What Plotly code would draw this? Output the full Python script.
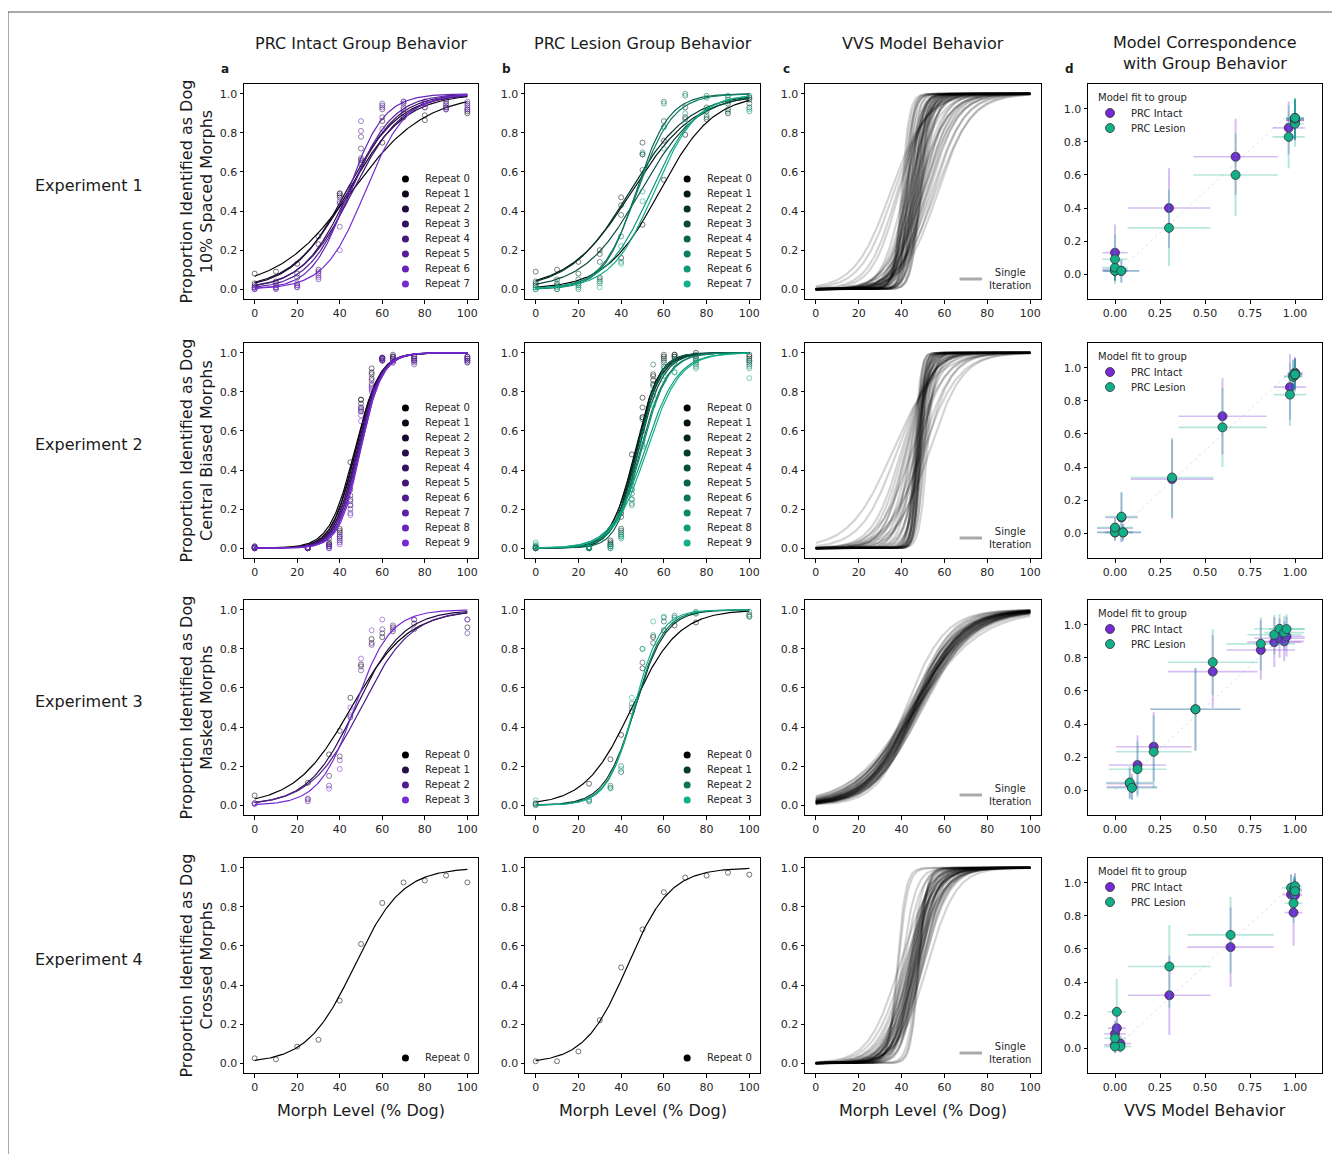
import numpy as np
import plotly.graph_objects as go
from plotly.subplots import make_subplots

W, H = 1340, 1154
OFF = 8  # page body margin that the browser adds around the figure
FONT = "DejaVu Sans"
INTACT = (118, 42, 212)
LESION = (18, 176, 138)

# morph levels
levels_10 = [0, 10, 20, 30, 40, 50, 60, 70, 80, 90, 100]
levels_cb = [0, 25, 35, 40, 45, 50, 55, 60, 65, 75, 100]

# ---- group behaviour: fitted sigmoid midpoints / slopes and raw points per repeat
exp1_intact_mid = [45.5, 44, 43, 44.5, 46, 45, 44, 52]
exp1_intact_slope = [0.058, 0.075, 0.08, 0.09, 0.085, 0.10, 0.12, 0.105]
exp1_intact_pts = [
    [0.08, 0.09, 0.13, 0.27, 0.49, 0.64, 0.75, 0.88, 0.865, 0.93, 0.90],
    [0.03, 0.04, 0.08, 0.23, 0.48, 0.67, 0.86, 0.90, 0.89, 0.92, 0.91],
    [0.02, 0.03, 0.06, 0.10, 0.47, 0.66, 0.88, 0.92, 0.93, 0.95, 0.92],
    [0.01, 0.02, 0.03, 0.09, 0.44, 0.72, 0.92, 0.95, 0.95, 0.96, 0.94],
    [0.01, 0.01, 0.02, 0.08, 0.49, 0.78, 0.94, 0.96, 0.96, 0.97, 0.95],
    [0.00, 0.00, 0.01, 0.06, 0.32, 0.81, 0.95, 0.93, 0.96, 0.93, 0.96],
    [0.00, 0.005, 0.01, 0.05, 0.45, 0.86, 0.93, 0.96, 0.95, 0.94, 0.93],
    [0.005, 0.01, 0.02, 0.07, 0.20, 0.65, 0.82, 0.90, 0.93, 0.92, 0.92],
]
exp1_lesion_mid = [58, 45, 44, 49, 47, 47.5, 54, 55.5]
exp1_lesion_slope = [0.08, 0.068, 0.072, 0.075, 0.13, 0.12, 0.095, 0.10]
exp1_lesion_pts = [
    [0.02, 0.02, 0.03, 0.06, 0.16, 0.33, 0.56, 0.79, 0.87, 0.90, 0.97],
    [0.09, 0.10, 0.14, 0.20, 0.47, 0.75, 0.76, 0.93, 0.91, 0.92, 0.98],
    [0.04, 0.05, 0.08, 0.18, 0.43, 0.69, 0.86, 0.88, 0.93, 0.95, 0.93],
    [0.03, 0.03, 0.05, 0.14, 0.38, 0.61, 0.83, 0.87, 0.88, 0.97, 0.95],
    [0.01, 0.00, 0.02, 0.04, 0.27, 0.69, 0.96, 0.99, 0.98, 0.99, 0.99],
    [0.00, 0.00, 0.00, 0.05, 0.14, 0.70, 0.95, 1.00, 0.99, 0.96, 0.98],
    [0.00, 0.01, 0.01, 0.03, 0.22, 0.50, 0.72, 0.90, 0.89, 0.91, 0.91],
    [0.01, 0.03, 0.02, 0.01, 0.13, 0.45, 0.83, 0.85, 0.92, 0.98, 0.92],
]

exp2_intact_mid = [47, 47.3, 47.6, 48, 48.3, 48.6, 48.9, 49.2, 49.5, 49.8]
exp2_intact_slope = [0.17, 0.18, 0.18, 0.19, 0.18, 0.19, 0.19, 0.20, 0.19, 0.20]
exp2_intact_pts = [
    [0.005, 0.00, 0.05, 0.10, 0.44, 0.76, 0.92, 0.975, 0.98, 0.98, 0.98],
    [0.00, 0.005, 0.03, 0.09, 0.30, 0.76, 0.90, 0.97, 0.99, 0.97, 0.97],
    [0.01, 0.00, 0.02, 0.08, 0.27, 0.74, 0.89, 0.975, 0.97, 0.96, 0.96],
    [0.00, 0.00, 0.02, 0.06, 0.25, 0.72, 0.87, 0.96, 0.98, 0.98, 0.98],
    [0.005, 0.005, 0.01, 0.05, 0.24, 0.71, 0.86, 0.97, 0.96, 0.95, 0.97],
    [0.00, 0.00, 0.01, 0.04, 0.22, 0.70, 0.84, 0.96, 0.97, 0.96, 0.95],
    [0.00, 0.00, 0.00, 0.07, 0.20, 0.72, 0.83, 0.975, 0.95, 0.97, 0.96],
    [0.005, 0.00, 0.02, 0.03, 0.18, 0.70, 0.82, 0.96, 0.98, 0.94, 0.95],
    [0.00, 0.005, 0.00, 0.02, 0.22, 0.68, 0.81, 0.965, 0.96, 0.96, 0.97],
    [0.01, 0.00, 0.01, 0.06, 0.17, 0.65, 0.80, 0.97, 0.95, 0.97, 0.98],
]
exp2_lesion_mid = [46.5, 47, 47, 47.5, 48, 48, 49, 49.5, 51, 52]
exp2_lesion_slope = [0.18, 0.19, 0.17, 0.18, 0.17, 0.20, 0.16, 0.16, 0.13, 0.13]
exp2_lesion_pts = [
    [0.00, 0.00, 0.04, 0.18, 0.48, 0.77, 0.86, 0.98, 0.99, 1.00, 0.99],
    [0.005, 0.00, 0.03, 0.16, 0.36, 0.72, 0.89, 0.99, 0.98, 0.98, 0.98],
    [0.00, 0.005, 0.02, 0.10, 0.32, 0.67, 0.88, 0.97, 0.99, 0.97, 0.97],
    [0.01, 0.00, 0.01, 0.09, 0.30, 0.67, 0.84, 0.96, 0.98, 0.99, 0.96],
    [0.00, 0.00, 0.02, 0.08, 0.28, 0.66, 0.83, 0.95, 0.97, 0.96, 0.95],
    [0.00, 0.005, 0.00, 0.07, 0.25, 0.60, 0.94, 0.93, 0.96, 0.95, 0.94],
    [0.01, 0.00, 0.01, 0.06, 0.23, 0.55, 0.80, 0.92, 0.95, 0.94, 0.96],
    [0.00, 0.00, 0.02, 0.05, 0.22, 0.52, 0.78, 0.90, 0.90, 0.93, 0.93],
    [0.02, 0.00, 0.00, 0.06, 0.25, 0.53, 0.74, 0.86, 0.94, 0.92, 0.92],
    [0.03, 0.005, 0.01, 0.07, 0.30, 0.56, 0.73, 0.88, 0.90, 0.96, 0.87],
]

exp3_intact_mid = [45.5, 47.5, 50, 47]
exp3_intact_slope = [0.075, 0.09, 0.085, 0.12]
exp3_intact_pts = [
    [0.05, 0.115, 0.26, 0.38, 0.55, 0.72, 0.85, 0.86, 0.91, 0.93, 0.91],
    [0.01, 0.03, 0.15, 0.25, 0.45, 0.71, 0.83, 0.88, 0.89, 0.95, 0.95],
    [0.01, 0.02, 0.10, 0.23, 0.46, 0.69, 0.82, 0.90, 0.92, 0.90, 0.88],
    [0.005, 0.035, 0.085, 0.185, 0.50, 0.75, 0.895, 0.95, 0.90, 0.95, 0.95],
]
exp3_lesion_mid = [45, 46.5, 46.5, 46]
exp3_lesion_slope = [0.092, 0.14, 0.15, 0.16]
exp3_lesion_pts = [
    [0.01, 0.11, 0.235, 0.36, 0.48, 0.70, 0.86, 0.895, 0.92, 0.935, 0.965],
    [0.00, 0.02, 0.09, 0.17, 0.50, 0.73, 0.83, 0.94, 0.96, 0.98, 0.975],
    [0.005, 0.03, 0.10, 0.20, 0.52, 0.80, 0.87, 0.96, 0.97, 0.99, 0.99],
    [0.025, 0.025, 0.085, 0.185, 0.55, 0.80, 0.94, 0.965, 0.95, 0.985, 0.965],
]

exp4_intact_mid = [47]
exp4_intact_slope = [0.09]
exp4_intact_pts = [[0.025, 0.02, 0.085, 0.12, 0.32, 0.61, 0.82, 0.925, 0.935, 0.96, 0.925]]
exp4_lesion_mid = [43]
exp4_lesion_slope = [0.10]
exp4_lesion_pts = [[0.01, 0.01, 0.06, 0.22, 0.49, 0.685, 0.875, 0.95, 0.96, 0.975, 0.965]]

# ---- VVS model: fitted sigmoid per iteration
vvs1_mid = [40, 40.5, 41, 41.5, 42, 42, 42.5, 43, 43.5, 44, 44, 44.5, 45, 45, 45.5, 46, 46, 46.5, 47, 47,
            47.5, 48, 48.5, 49, 49.5, 50, 48, 49, 50, 51, 52, 53, 54, 55, 57, 35, 36.5, 38, 39, 41,
            43, 45, 47, 46, 44, 42, 48, 50, 52, 56, 44.5, 45.5, 46.5, 47.5, 48.5, 43, 42.5, 49]
vvs1_slope = [0.55, 0.5, 0.45, 0.5, 0.4, 0.3, 0.35, 0.3, 0.35, 0.4, 0.25, 0.3, 0.45, 0.28, 0.3, 0.5, 0.25, 0.3, 0.45, 0.22,
              0.3, 0.4, 0.25, 0.35, 0.3, 0.2, 0.18, 0.16, 0.15, 0.17, 0.14, 0.15, 0.13, 0.14, 0.13, 0.12, 0.13, 0.15, 0.16, 0.2,
              0.18, 0.16, 0.14, 0.2, 0.22, 0.25, 0.15, 0.13, 0.16, 0.12, 0.6, 0.45, 0.4, 0.55, 0.5, 0.6, 0.7, 0.45]
vvs2_mid = [46, 46.5, 47, 47, 47.5, 47.5, 48, 48, 48.5, 48.5, 49, 49, 49.5, 50, 50.5, 51, 52, 46, 47, 48,
            49, 50, 45, 44, 43, 42, 41, 40, 45, 47, 49, 51, 46, 48, 44, 42, 38, 36, 50, 53,
            47, 48, 49, 47.5, 48.5]
vvs2_slope = [0.7, 0.6, 0.8, 0.5, 0.7, 0.45, 0.6, 0.4, 0.55, 0.8, 0.5, 0.7, 0.6, 0.45, 0.6, 0.5, 0.55, 0.3, 0.35, 0.3,
              0.25, 0.3, 0.22, 0.2, 0.18, 0.17, 0.16, 0.15, 0.13, 0.15, 0.14, 0.16, 0.25, 0.2, 0.3, 0.2, 0.12, 0.1, 0.12, 0.13,
              0.9, 0.75, 0.65, 0.55, 0.85]
vvs3_mid = [43, 43.5, 44, 44.5, 45, 45, 45.5, 46, 46, 46.5, 46.5, 47, 47, 47.5, 47.5, 48, 48, 48.5, 49, 49.5,
            44, 45, 46, 47, 48, 45.5, 46.5, 47.5, 44.5, 48.5, 42, 50, 46, 47, 45,
            45.8, 46.2, 46.8, 47.2, 45.2]
vvs3_slope = [0.085, 0.09, 0.08, 0.095, 0.085, 0.1, 0.09, 0.08, 0.095, 0.085, 0.1, 0.09, 0.075, 0.085, 0.095, 0.08, 0.09, 0.085, 0.08, 0.09,
              0.105, 0.075, 0.11, 0.07, 0.1, 0.08, 0.09, 0.1, 0.07, 0.095, 0.11, 0.085, 0.12, 0.065, 0.075,
              0.09, 0.085, 0.095, 0.08, 0.09]
vvs4_mid = [38, 38.5, 40, 41, 42, 43, 43.5, 44, 44.5, 45, 45, 45.5, 46, 46, 46.5, 47, 47, 47.5, 48, 48,
            48.5, 49, 49.5, 50, 42, 44, 46, 48, 41, 43, 45, 47, 49, 46, 44, 47.5, 48, 50, 52, 39,
            45.5, 46.5, 44.5, 47.5, 43.5]
vvs4_slope = [0.5, 0.45, 0.3, 0.25, 0.2, 0.22, 0.18, 0.25, 0.2, 0.3, 0.17, 0.22, 0.25, 0.18, 0.2, 0.3, 0.16, 0.22, 0.5, 0.2,
              0.25, 0.18, 0.2, 0.17, 0.15, 0.16, 0.15, 0.16, 0.14, 0.15, 0.14, 0.15, 0.16, 0.35, 0.35, 0.45, 0.55, 0.16, 0.15, 0.14,
              0.22, 0.2, 0.24, 0.19, 0.21]

# ---- model correspondence (per morph level)
d1_model = [0.0, 0.0, 0.0, 0.035, 0.30, 0.67, 0.965, 1.0, 1.0, 1.0, 1.0]
d1_model_err = [0.07, 0.07, 0.07, 0.10, 0.23, 0.235, 0.09, 0.05, 0.05, 0.05, 0.05]
d1_intact = [0.02, 0.03, 0.13, 0.02, 0.40, 0.71, 0.885, 0.93, 0.935, 0.94, 0.93]
d1_intact_err = [0.06, 0.07, 0.17, 0.07, 0.24, 0.23, 0.16, 0.12, 0.12, 0.12, 0.12]
d1_lesion = [0.02, 0.04, 0.09, 0.02, 0.28, 0.60, 0.83, 0.91, 0.945, 0.94, 0.945]
d1_lesion_err = [0.06, 0.08, 0.15, 0.07, 0.23, 0.25, 0.19, 0.14, 0.12, 0.12, 0.12]

d2_model = [0.0, 0.0, 0.045, 0.036, 0.317, 0.597, 0.972, 0.99, 1.0, 1.0, 1.0]
d2_model_err = [0.10, 0.10, 0.10, 0.09, 0.23, 0.245, 0.09, 0.05, 0.04, 0.04, 0.04]
d2_intact = [0.005, 0.03, 0.005, 0.095, 0.327, 0.707, 0.883, 0.95, 0.965, 0.97, 0.965]
d2_intact_err = [0.05, 0.06, 0.05, 0.15, 0.24, 0.23, 0.20, 0.10, 0.10, 0.09, 0.09]
d2_lesion = [0.005, 0.034, 0.005, 0.10, 0.337, 0.64, 0.838, 0.945, 0.955, 0.96, 0.96]
d2_lesion_err = [0.05, 0.06, 0.05, 0.15, 0.24, 0.24, 0.19, 0.10, 0.10, 0.09, 0.09]

d3_model = [0.082, 0.094, 0.125, 0.215, 0.447, 0.543, 0.81, 0.885, 0.914, 0.94, 0.953]
d3_model_err = [0.13, 0.14, 0.16, 0.21, 0.25, 0.25, 0.19, 0.15, 0.14, 0.11, 0.10]
d3_intact = [0.04, 0.02, 0.152, 0.263, 0.489, 0.717, 0.848, 0.895, 0.919, 0.90, 0.929]
d3_intact_err = [0.09, 0.08, 0.18, 0.21, 0.25, 0.22, 0.18, 0.15, 0.12, 0.12, 0.12]
d3_lesion = [0.046, 0.014, 0.127, 0.232, 0.489, 0.774, 0.885, 0.94, 0.976, 0.953, 0.974]
d3_lesion_err = [0.10, 0.07, 0.17, 0.22, 0.25, 0.20, 0.16, 0.12, 0.09, 0.10, 0.09]

d4_model = [0.03, 0.0, 0.0, 0.01, 0.302, 0.642, 0.992, 0.978, 0.995, 1.0, 1.0]
d4_model_err = [0.06, 0.06, 0.06, 0.05, 0.23, 0.24, 0.05, 0.05, 0.04, 0.04, 0.04]
d4_intact = [0.028, 0.02, 0.087, 0.121, 0.32, 0.611, 0.82, 0.929, 0.935, 0.96, 0.925]
d4_intact_err = [0.05, 0.05, 0.08, 0.10, 0.24, 0.24, 0.20, 0.12, 0.10, 0.10, 0.10]
d4_lesion = [0.01, 0.01, 0.06, 0.22, 0.494, 0.685, 0.877, 0.97, 0.96, 0.98, 0.95]
d4_lesion_err = [0.04, 0.04, 0.07, 0.20, 0.25, 0.23, 0.12, 0.08, 0.08, 0.07, 0.08]

col_titles = ["PRC Intact Group Behavior", "PRC Lesion Group Behavior", "VVS Model Behavior",
              "Model Correspondence<br>with Group Behavior"]
row_labels = ["Experiment 1", "Experiment 2", "Experiment 3", "Experiment 4"]
y_titles = ["Proportion Identified as Dog<br>10% Spaced Morphs",
            "Proportion Identified as Dog<br>Central Biased Morphs",
            "Proportion Identified as Dog<br>Masked Morphs",
            "Proportion Identified as Dog<br>Crossed Morphs"]

rows = [
    dict(levels=levels_10, intact=(exp1_intact_mid, exp1_intact_slope, exp1_intact_pts),
         lesion=(exp1_lesion_mid, exp1_lesion_slope, exp1_lesion_pts), vvs=(vvs1_mid, vvs1_slope),
         d=(d1_model, d1_model_err, d1_intact, d1_intact_err, d1_lesion, d1_lesion_err)),
    dict(levels=levels_cb, intact=(exp2_intact_mid, exp2_intact_slope, exp2_intact_pts),
         lesion=(exp2_lesion_mid, exp2_lesion_slope, exp2_lesion_pts), vvs=(vvs2_mid, vvs2_slope),
         d=(d2_model, d2_model_err, d2_intact, d2_intact_err, d2_lesion, d2_lesion_err)),
    dict(levels=levels_cb, intact=(exp3_intact_mid, exp3_intact_slope, exp3_intact_pts),
         lesion=(exp3_lesion_mid, exp3_lesion_slope, exp3_lesion_pts), vvs=(vvs3_mid, vvs3_slope),
         d=(d3_model, d3_model_err, d3_intact, d3_intact_err, d3_lesion, d3_lesion_err)),
    dict(levels=levels_10, intact=(exp4_intact_mid, exp4_intact_slope, exp4_intact_pts),
         lesion=(exp4_lesion_mid, exp4_lesion_slope, exp4_lesion_pts), vvs=(vvs4_mid, vvs4_slope),
         d=(d4_model, d4_model_err, d4_intact, d4_intact_err, d4_lesion, d4_lesion_err)),
]

# pixel layout of the panels (screen pixels)
col_px = [(244, 478), (525, 760), (805, 1041), (1088, 1322)]
row_px = [(84, 299), (343, 558), (600, 815), (858, 1073)]


def px(x):
    return (x - OFF) / W


def py(y):
    return 1 - (y - OFF) / H


xs = np.linspace(0, 100, 201)


def sigmoid(x, m, k):
    return 1.0 / (1.0 + np.exp(-k * (x - m)))


def shade(base, t, a=1.0):
    r, g, b = [int(round(c * t)) for c in base]
    return f"rgba({r},{g},{b},{a})"


def rgba(base, a):
    return f"rgba({base[0]},{base[1]},{base[2]},{a})"


fig = make_subplots(rows=4, cols=4)
annotations = []
shapes = []


def axname(r, c):
    i = r * 4 + c + 1
    return ("x", "y") if i == 1 else (f"x{i}", f"y{i}")


for r in range(4):
    for c in range(4):
        x0, x1 = col_px[c]
        y0, y1 = row_px[r]
        fig.update_xaxes(domain=[px(x0), px(x1)], row=r + 1, col=c + 1)
        fig.update_yaxes(domain=[py(y1), py(y0)], row=r + 1, col=c + 1)

for r, info in enumerate(rows):
    lv = info["levels"]
    # group behaviour panels
    for c, (key, base) in enumerate([("intact", INTACT), ("lesion", LESION)]):
        mids, slopes, pts = info[key]
        n = len(mids)
        xn, yn = axname(r, c)
        for i in range(n):
            t = i / (n - 1) if n > 1 else 0
            col = shade(base, t)
            fig.add_trace(go.Scatter(x=lv, y=pts[i], mode="markers",
                                     marker=dict(symbol="circle-open", size=5, color=shade(base, t, 0.6),
                                                 line=dict(width=0.9)),
                                     hoverinfo="skip"), row=r + 1, col=c + 1)
            fig.add_trace(go.Scatter(x=xs, y=sigmoid(xs, mids[i], slopes[i]), mode="lines",
                                     line=dict(color=col, width=1.2), name=f"Repeat {i}"),
                          row=r + 1, col=c + 1)
            # legend entry
            ly = 0.07 + (n - 1 - i) * 0.0698
            dw, dh = 7 / 234, 7 / 215
            shapes.append(dict(type="circle", xref=f"{xn} domain", yref=f"{yn} domain",
                               x0=0.69 - dw / 2, x1=0.69 + dw / 2, y0=ly - dh / 2, y1=ly + dh / 2,
                               fillcolor=col, line=dict(width=0)))
            annotations.append(dict(text=f"Repeat {i}", xref=f"{xn} domain", yref=f"{yn} domain",
                                    x=0.765, y=ly, xanchor="left", yanchor="middle", showarrow=False,
                                    font=dict(size=10, color="#262626")))
    # VVS model panel
    vm, vk = info["vvs"]
    for m, k in zip(vm, vk):
        fig.add_trace(go.Scatter(x=xs, y=sigmoid(xs, m, k), mode="lines",
                                 line=dict(color="rgba(0,0,0,0.17)", width=2.2), hoverinfo="skip"),
                      row=r + 1, col=3)
    xn, yn = axname(r, 2)
    shapes.append(dict(type="line", xref=f"{xn} domain", yref=f"{yn} domain",
                       x0=0.655, x1=0.75, y0=0.093, y1=0.093, line=dict(color="#aaaaaa", width=3)))
    annotations.append(dict(text="Single<br>Iteration", xref=f"{xn} domain", yref=f"{yn} domain",
                            x=0.87, y=0.095, xanchor="center", yanchor="middle", showarrow=False,
                            font=dict(size=10, color="#262626")))
    # model correspondence panel
    mx, mxe, iy, iye, ly_, lye = info["d"]
    fig.add_trace(go.Scatter(x=[0, 1], y=[0, 1], mode="lines",
                             line=dict(color="rgba(0,0,0,0.15)", width=0.8, dash="dot"), hoverinfo="skip"),
                  row=r + 1, col=4)
    for yv, ye, base, nm in [(iy, iye, INTACT, "PRC Intact"), (ly_, lye, LESION, "PRC Lesion")]:
        fig.add_trace(go.Scatter(
            x=mx, y=yv, mode="markers", name=nm,
            error_x=dict(type="data", array=mxe, color=rgba(base, 0.3), thickness=1.6, width=0),
            error_y=dict(type="data", array=ye, color=rgba(base, 0.3), thickness=2, width=0),
            marker=dict(size=9, color=rgba(base, 1), line=dict(color="#333333", width=0.8))),
            row=r + 1, col=4)
    xn, yn = axname(r, 3)
    annotations.append(dict(text="Model fit to group", xref=f"{xn} domain", yref=f"{yn} domain",
                            x=0.035, y=0.935, xanchor="left", yanchor="middle", showarrow=False,
                            font=dict(size=10, color="#262626")))
    for j, (base, nm) in enumerate([(INTACT, "PRC Intact"), (LESION, "PRC Lesion")]):
        yy = 0.865 - j * 0.07
        dw, dh = 9 / 234, 9 / 215
        shapes.append(dict(type="circle", xref=f"{xn} domain", yref=f"{yn} domain",
                           x0=0.094 - dw / 2, x1=0.094 + dw / 2, y0=yy - dh / 2, y1=yy + dh / 2,
                           fillcolor=rgba(base, 1), line=dict(color="#333333", width=0.8)))
        annotations.append(dict(text=nm, xref=f"{xn} domain", yref=f"{yn} domain",
                                x=0.175, y=yy, xanchor="left", yanchor="middle", showarrow=False,
                                font=dict(size=10, color="#262626")))

axis_style = dict(showgrid=False, zeroline=False, showline=True, mirror=True, linecolor="black",
                  linewidth=1, ticks="outside", ticklen=3.5, tickcolor="black",
                  tickfont=dict(family=FONT, size=11, color="#262626"))
for r in range(4):
    for c in range(4):
        if c < 3:
            fig.update_xaxes(range=[-5, 105], tickvals=[0, 20, 40, 60, 80, 100], row=r + 1, col=c + 1, **axis_style)
            fig.update_yaxes(range=[-0.05, 1.05], tickvals=[0, 0.2, 0.4, 0.6, 0.8, 1.0], tickformat=".1f",
                             row=r + 1, col=c + 1, **axis_style)
        else:
            fig.update_xaxes(range=[-0.15, 1.15], tickvals=[0, 0.25, 0.5, 0.75, 1.0], tickformat=".2f",
                             row=r + 1, col=c + 1, **axis_style)
            fig.update_yaxes(range=[-0.15, 1.15], tickvals=[0, 0.2, 0.4, 0.6, 0.8, 1.0], tickformat=".1f",
                             row=r + 1, col=c + 1, **axis_style)

# column titles, panel letters, x titles
for c in range(4):
    x0, x1 = col_px[c]
    cx = px((x0 + x1) / 2)
    annotations.append(dict(text=col_titles[c], xref="paper", yref="paper", x=cx,
                            y=py(53 if c == 3 else 44), xanchor="center", yanchor="middle",
                            showarrow=False, font=dict(size=16, color="#1a1a1a")))
    annotations.append(dict(text="<b>" + "abcd"[c] + "</b>", xref="paper", yref="paper", x=px(x0 - 19),
                            y=py(69), xanchor="center", yanchor="middle", showarrow=False,
                            font=dict(size=12, color="#1a1a1a")))
    annotations.append(dict(text="VVS Model Behavior" if c == 3 else "Morph Level (% Dog)",
                            xref="paper", yref="paper", x=cx, y=py(1110), xanchor="center",
                            yanchor="middle", showarrow=False, font=dict(size=16, color="#1a1a1a")))

# row labels and y titles
for r in range(4):
    y0, y1 = row_px[r]
    cy = py((y0 + y1) / 2)
    annotations.append(dict(text=row_labels[r], xref="paper", yref="paper", x=px(33), y=py((y0 + y1) / 2 - 6),
                            xanchor="left", yanchor="middle", showarrow=False,
                            font=dict(size=16, color="#1a1a1a")))
    annotations.append(dict(text=y_titles[r], xref="paper", yref="paper", x=px(196), y=cy,
                            xanchor="center", yanchor="middle", textangle=-90, showarrow=False,
                            font=dict(size=16, color="#1a1a1a")))

# figure frame
shapes.append(dict(type="rect", xref="paper", yref="paper", x0=px(8), x1=1.05, y0=-0.05, y1=py(12),
                   line=dict(color="#555555", width=1), layer="below"))

fig.update_layout(width=W, height=H, margin=dict(l=0, r=0, t=0, b=0), showlegend=False,
                  plot_bgcolor="white", paper_bgcolor="white", font=dict(family=FONT, color="#1a1a1a"),
                  annotations=annotations, shapes=shapes)

fig.write_html("out.html")
